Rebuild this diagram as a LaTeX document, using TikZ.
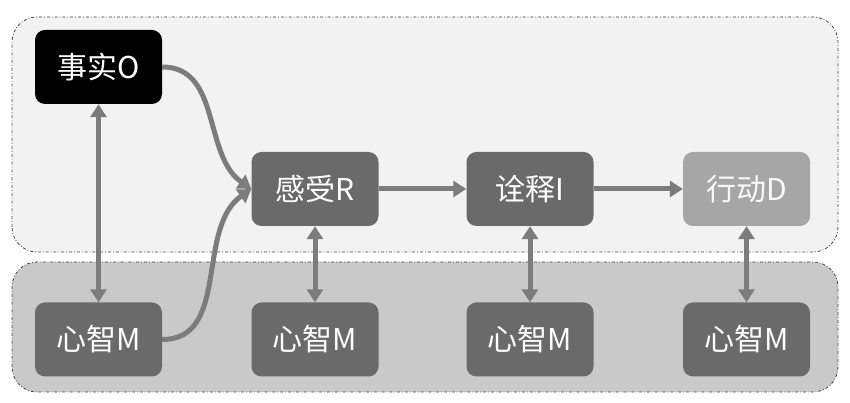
\documentclass[tikz,border=0pt]{standalone}
\usepackage{fontspec}
\setmainfont{Noto Sans CJK SC}
\usetikzlibrary{arrows.meta}
\definecolor{nodegray}{HTML}{6A6A6A}
\definecolor{lightnode}{HTML}{A6A6A6}
\definecolor{arrowgray}{HTML}{7C7C7C}
\definecolor{toppanel}{HTML}{F2F2F2}
\definecolor{botpanel}{HTML}{C9C9C9}
\definecolor{panelline}{HTML}{444444}
\tikzset{
  box/.style={rounded corners=10pt, minimum width=127pt, minimum height=74pt,
    fill=nodegray, text=white, inner sep=0pt, font=\fontsize{30}{33}\selectfont},
  panel/.style={rounded corners=25pt, draw=panelline, line width=0.8pt, dash dot},
  conn/.style={draw=arrowgray, line width=5pt, -{Triangle[width=16pt,length=13pt]}},
  dconn/.style={draw=arrowgray, line width=5pt, {Triangle[width=16pt,length=13pt]}-{Triangle[width=16pt,length=13pt]}},
}
\begin{document}
\begin{tikzpicture}[x=1pt,y=1pt]
\useasboundingbox (0,0) rectangle (850,403);
\fill[white] (0,0) rectangle (850,403);
\draw[panel, fill=toppanel] (12,151) rectangle (838,386);
\draw[panel, fill=botpanel] (12,11) rectangle (838,141);

\node[box, fill=black] (O) at (98.5,336) {事实O};
\node[box] (M1) at (98.5,63.5) {心智M};
\node[box] (R) at (315,214) {感受R};
\node[box] (M2) at (315,63.5) {心智M};
\node[box] (I) at (530,214) {诠释I};
\node[box] (M3) at (530,63.5) {心智M};
\node[box, fill=lightnode, text=white!95!gray] (D) at (746.5,214) {行动D};
\node[box] (M4) at (746.5,63.5) {心智M};

\draw[conn] (O.east) to[out=0, in=145] (R.west);
\draw[conn] (M1.east) to[out=0, in=215] (R.west);
\draw[conn] (R) -- (I);
\draw[conn] (I) -- (D);
\draw[dconn] (O) -- (M1);
\draw[dconn] (R) -- (M2);
\draw[dconn] (I) -- (M3);
\draw[dconn] (D) -- (M4);
\end{tikzpicture}
\end{document}
